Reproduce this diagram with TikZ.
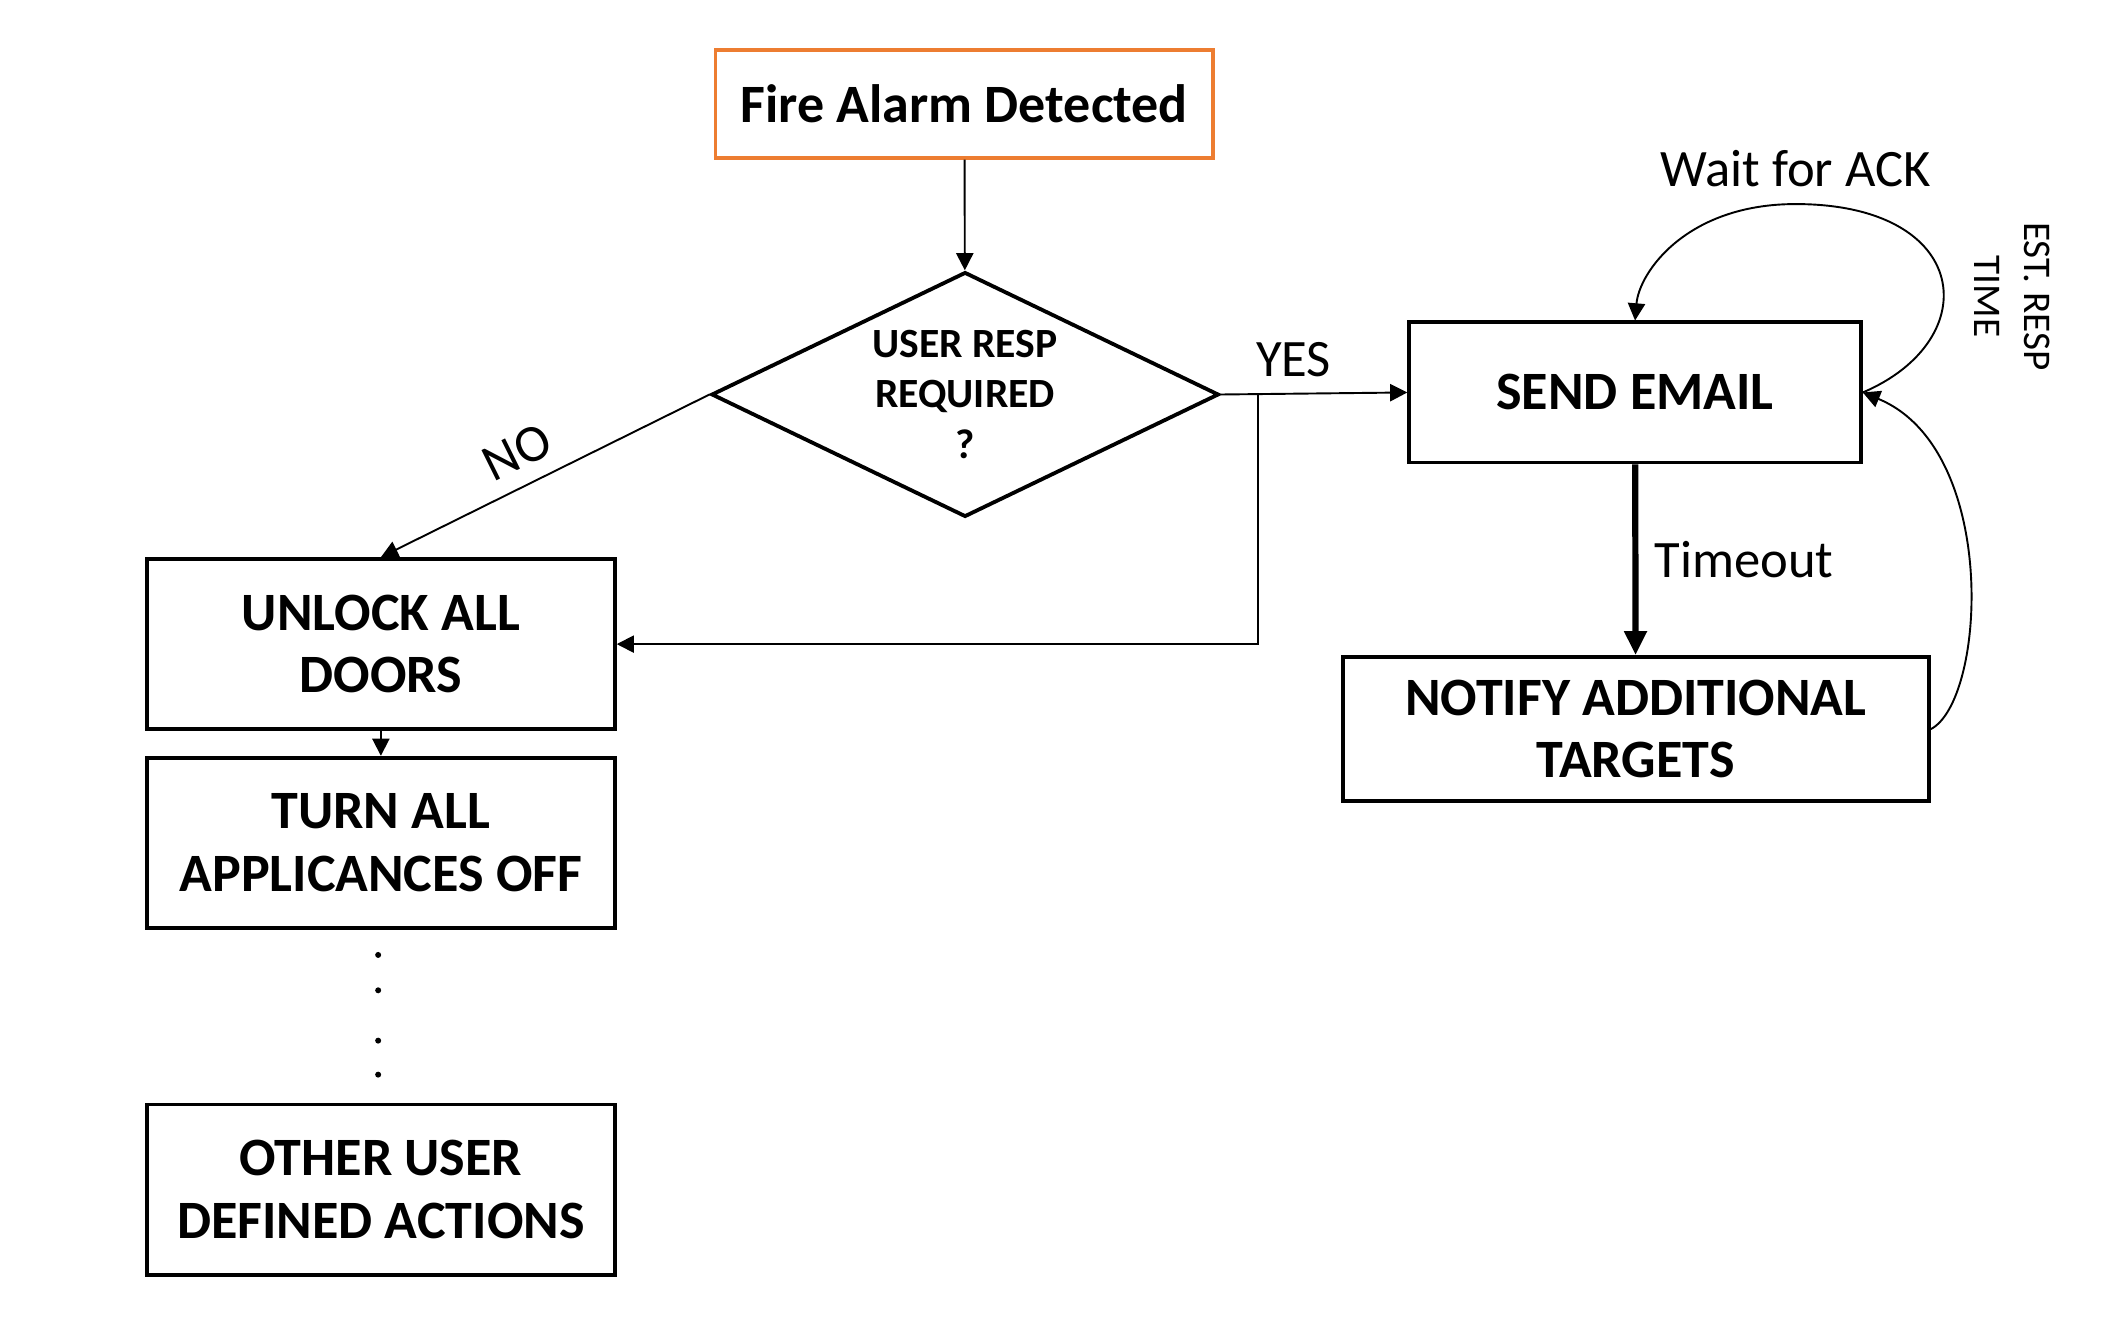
\documentclass[tikz,border=0pt]{standalone}
\usepackage{fontspec}
\setmainfont{Carlito}
\usetikzlibrary{shapes.geometric,arrows.meta}

\definecolor{alarmorange}{HTML}{ED7D31}
\def\boxfont{\fontsize{11.3}{13.1}\selectfont\bfseries}

\begin{document}
\begin{tikzpicture}[->,>={Triangle[length=3.6pt,width=3.6pt]},line width=0.4pt]
    \tikzstyle{action}=[draw,line width=0.8pt,minimum width=3.44cm,minimum height=1.25cm,inner sep=0pt,align=center,font=\boxfont]
    \tikzstyle{start}=[action,draw=alarmorange,minimum width=3.66cm,minimum height=0.79cm]
    \tikzstyle{decision}=[diamond,aspect=2.07,draw,line width=0.8pt,minimum width=3.73cm,minimum height=1.80cm,inner sep=0pt,align=center,font=\fontsize{8.7}{10.6}\selectfont\bfseries]
    \tikzstyle{annot}=[font=\fontsize{11}{13}\selectfont]

    \useasboundingbox (0,0) rectangle (15.60,-9.733);

    % Draw the trigger and the decision
    \node[start] (fire) at (7.09,-0.765) {Fire Alarm Detected};
    \node[decision] (resp) at (7.095,-2.90) {USER RESP\\REQUIRED\\?};

    % Draw the notification nodes
    \node[action,minimum width=3.32cm,minimum height=1.03cm] (email) at (12.02,-2.885) {SEND EMAIL};
    \node[action,minimum width=4.31cm,minimum height=1.06cm] (notify) at (12.025,-5.36) {NOTIFY ADDITIONAL\\TARGETS};

    % Draw the user defined actions
    \node[action] (unlock) at (2.80,-4.735) {UNLOCK ALL\\DOORS};
    \node[action,below of=unlock,node distance=1.46cm] (power) {TURN ALL\\APPLICANCES OFF};
    \node[action] (other) at (2.80,-8.745) {OTHER USER\\DEFINED ACTIONS};
    \foreach \y in {7.02,7.28,7.65,7.90}
        \fill[-] (2.78,-\y) circle (0.022);

    % Connect the trigger with the decision
    \draw (fire) -- (resp);
    \draw (resp.west) -- node[annot,sloped,above=0pt,pos=0.54] {NO} (unlock.north);
    \draw (resp.east) -- node[annot,above,pos=0.39] {YES} (email.west);
    \coordinate (split) at (9.25,-2.90);
    \draw (split) |- (unlock.east);
    \draw (unlock) -- (power);

    % Connect the notification nodes
    \draw[line width=1.3pt,-{Triangle[length=5pt,width=4.5pt]}] (email) -- node[annot,right] {Timeout} (notify);
    \draw (email.east) .. controls (14.60,-2.50) and (14.50,-1.50) .. (13.20,-1.50) node[annot,above] {Wait for ACK}
        .. controls (12.40,-1.50) and (12.05,-2.00) .. (email.north);
    \draw (notify.east) .. controls (14.60,-5.15) and (14.70,-3.30) .. (email.east);

    % Annotate the loop
    \node[annot,rotate=-90,align=center,font=\fontsize{8.2}{10.5}\selectfont] (est) at (14.79,-2.18) {EST. RESP\\TIME};
\end{tikzpicture}
\end{document}
